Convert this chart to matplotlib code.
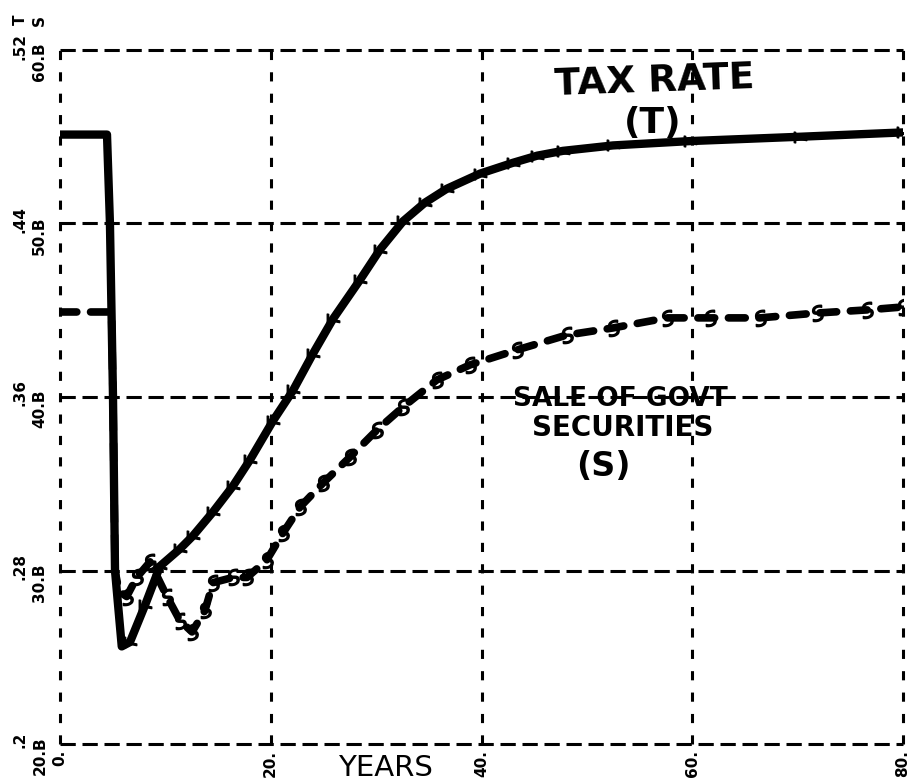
import matplotlib.pyplot as plt
from matplotlib.markers import MarkerStyle
from matplotlib.transforms import Affine2D, offset_copy
import numpy as np

# Tax rate (T)
t_years = [0, 4.46, 4.74, 5.03, 5.22, 5.86, 6.64, 8.07, 9.49, 11.39, 12.62, 14.52, 16.42,
           18.03, 20.21, 22.11, 24.01, 25.91, 28.47, 30.37, 32.55, 34.6, 36.70, 39.86, 42.99,
           45.3, 47.73, 52.48, 59.79, 70.22, 80.0]
tax_rate = [0.481, 0.481, 0.440, 0.360, 0.280, 0.245, 0.247, 0.264, 0.282, 0.290, 0.296,
            0.307, 0.319, 0.331, 0.349, 0.363, 0.380, 0.396, 0.414, 0.428, 0.441, 0.4495,
            0.456, 0.463, 0.468, 0.4713, 0.4735, 0.476, 0.478, 0.480, 0.482]

# Sale of govt securities (S), billions
s_years = [0, 4.89, 5.03, 5.22, 5.6, 6.33, 7.28, 8.54, 10.15, 11.39, 12.53, 13.76, 14.52,
           16.42, 17.75, 19.62, 21.16, 22.78, 24.96, 27.52, 30.08, 32.55, 35.75, 38.91,
           43.34, 48.09, 52.48, 57.60, 61.68, 66.43, 71.84, 76.58, 80.0]
securities = [44.9, 44.9, 40.0, 30.0, 28.8, 28.5, 29.6, 30.5, 28.5, 27.1, 26.46, 27.7, 29.3,
              29.6, 29.6, 30.6, 32.16, 33.66, 35.04, 36.54, 38.10, 39.42, 40.98, 41.85,
              42.71, 43.57, 43.98, 44.56, 44.56, 44.56, 44.84, 45.02, 45.19]

fig = plt.figure(figsize=(9.07, 7.84), dpi=100)
ax = fig.add_axes([60 / 907, 40 / 784, 843 / 907, 694 / 784])
ax.set_xlim(0, 80)
ax.set_ylim(20, 60)
ax2 = ax.twinx()
ax2.set_ylim(0.2, 0.52)

for a in (ax, ax2):
    for sp in a.spines.values():
        sp.set_visible(False)
    a.set_xticks([])
    a.set_yticks([])

# dashed grid, including the frame
for x in [0, 20, 40, 60, 80]:
    ax.axvline(x, color="black", lw=2.2, dashes=(3.0, 4.0), clip_on=False, zorder=1)
for y in [20, 30, 40, 50, 60]:
    ax.axhline(y, color="black", lw=2.2, dashes=(5.0, 2.2), clip_on=False, zorder=1)

# curves
s_mark = MarkerStyle("$S$", transform=Affine2D().rotate_deg(15))
ax.plot(s_years, securities, color="black", lw=5.5, dashes=(2.2, 1.8),
        solid_capstyle="round", dash_capstyle="round", zorder=3)
ax.plot(s_years[5:], securities[5:], ls="none", marker=s_mark, ms=11, color="black", zorder=3)

t_mark = MarkerStyle("$T$", transform=Affine2D().rotate_deg(90))
ax2.plot(t_years, tax_rate, color="black", lw=6, solid_joinstyle="round", zorder=4)
ax2.plot(t_years[6:], tax_rate[6:], ls="none", marker=t_mark, ms=9, color="black", zorder=4)

# y tick labels (two scales, rotated)
lab_kw = dict(rotation=90, fontsize=11, fontweight="bold", ha="center", va="center",
              family="DejaVu Sans")
ytr = ax.get_yaxis_transform()
t_labels = [".2", ".28", ".36", ".44", ".52"]
s_labels = ["20.B", "30.B", "40.B", "50.B", "60.B"]
for y, tl, sl in zip([20, 30, 40, 50, 60], t_labels, s_labels):
    ax.text(-0.0475, y, tl, transform=offset_copy(ytr, fig, y=4, units="dots"), **lab_kw)
    ax.text(-0.024, y, sl, transform=offset_copy(ytr, fig, y=-12, units="dots"), **lab_kw)
ax.text(-0.0475, 1.0, "T", transform=offset_copy(ax.transAxes, fig, y=30, units="dots"), **lab_kw)
ax.text(-0.024, 1.0, "S", transform=offset_copy(ax.transAxes, fig, y=30, units="dots"), **lab_kw)

# x tick labels
xtr = ax.get_xaxis_transform()
for x in [0, 20, 40, 60, 80]:
    ax.text(x, 0, f"{x}.", transform=offset_copy(xtr, fig, y=-6, units="dots"),
            rotation=90, fontsize=11, fontweight="bold", ha="center", va="top")

# hand-written annotations
ax.text(0.386, -0.034, "YEARS", transform=ax.transAxes, fontsize=21, ha="center", va="center")
ax.text(0.705, 0.955, "TAX RATE", transform=ax.transAxes, fontsize=27, fontweight="bold",
        ha="center", va="center", rotation=2)
ax.text(0.703, 0.895, "(T)", transform=ax.transAxes, fontsize=26, fontweight="bold",
        ha="center", va="center")
ax.text(0.665, 0.497, "SALE OF GOVT", transform=ax.transAxes, fontsize=19, fontweight="bold",
        ha="center", va="center")
ax.text(0.668, 0.455, "SECURITIES", transform=ax.transAxes, fontsize=20, fontweight="bold",
        ha="center", va="center")
ax.text(0.645, 0.400, "(S)", transform=ax.transAxes, fontsize=24, fontweight="bold",
        ha="center", va="center")

fig.savefig("out.png", dpi=100)
